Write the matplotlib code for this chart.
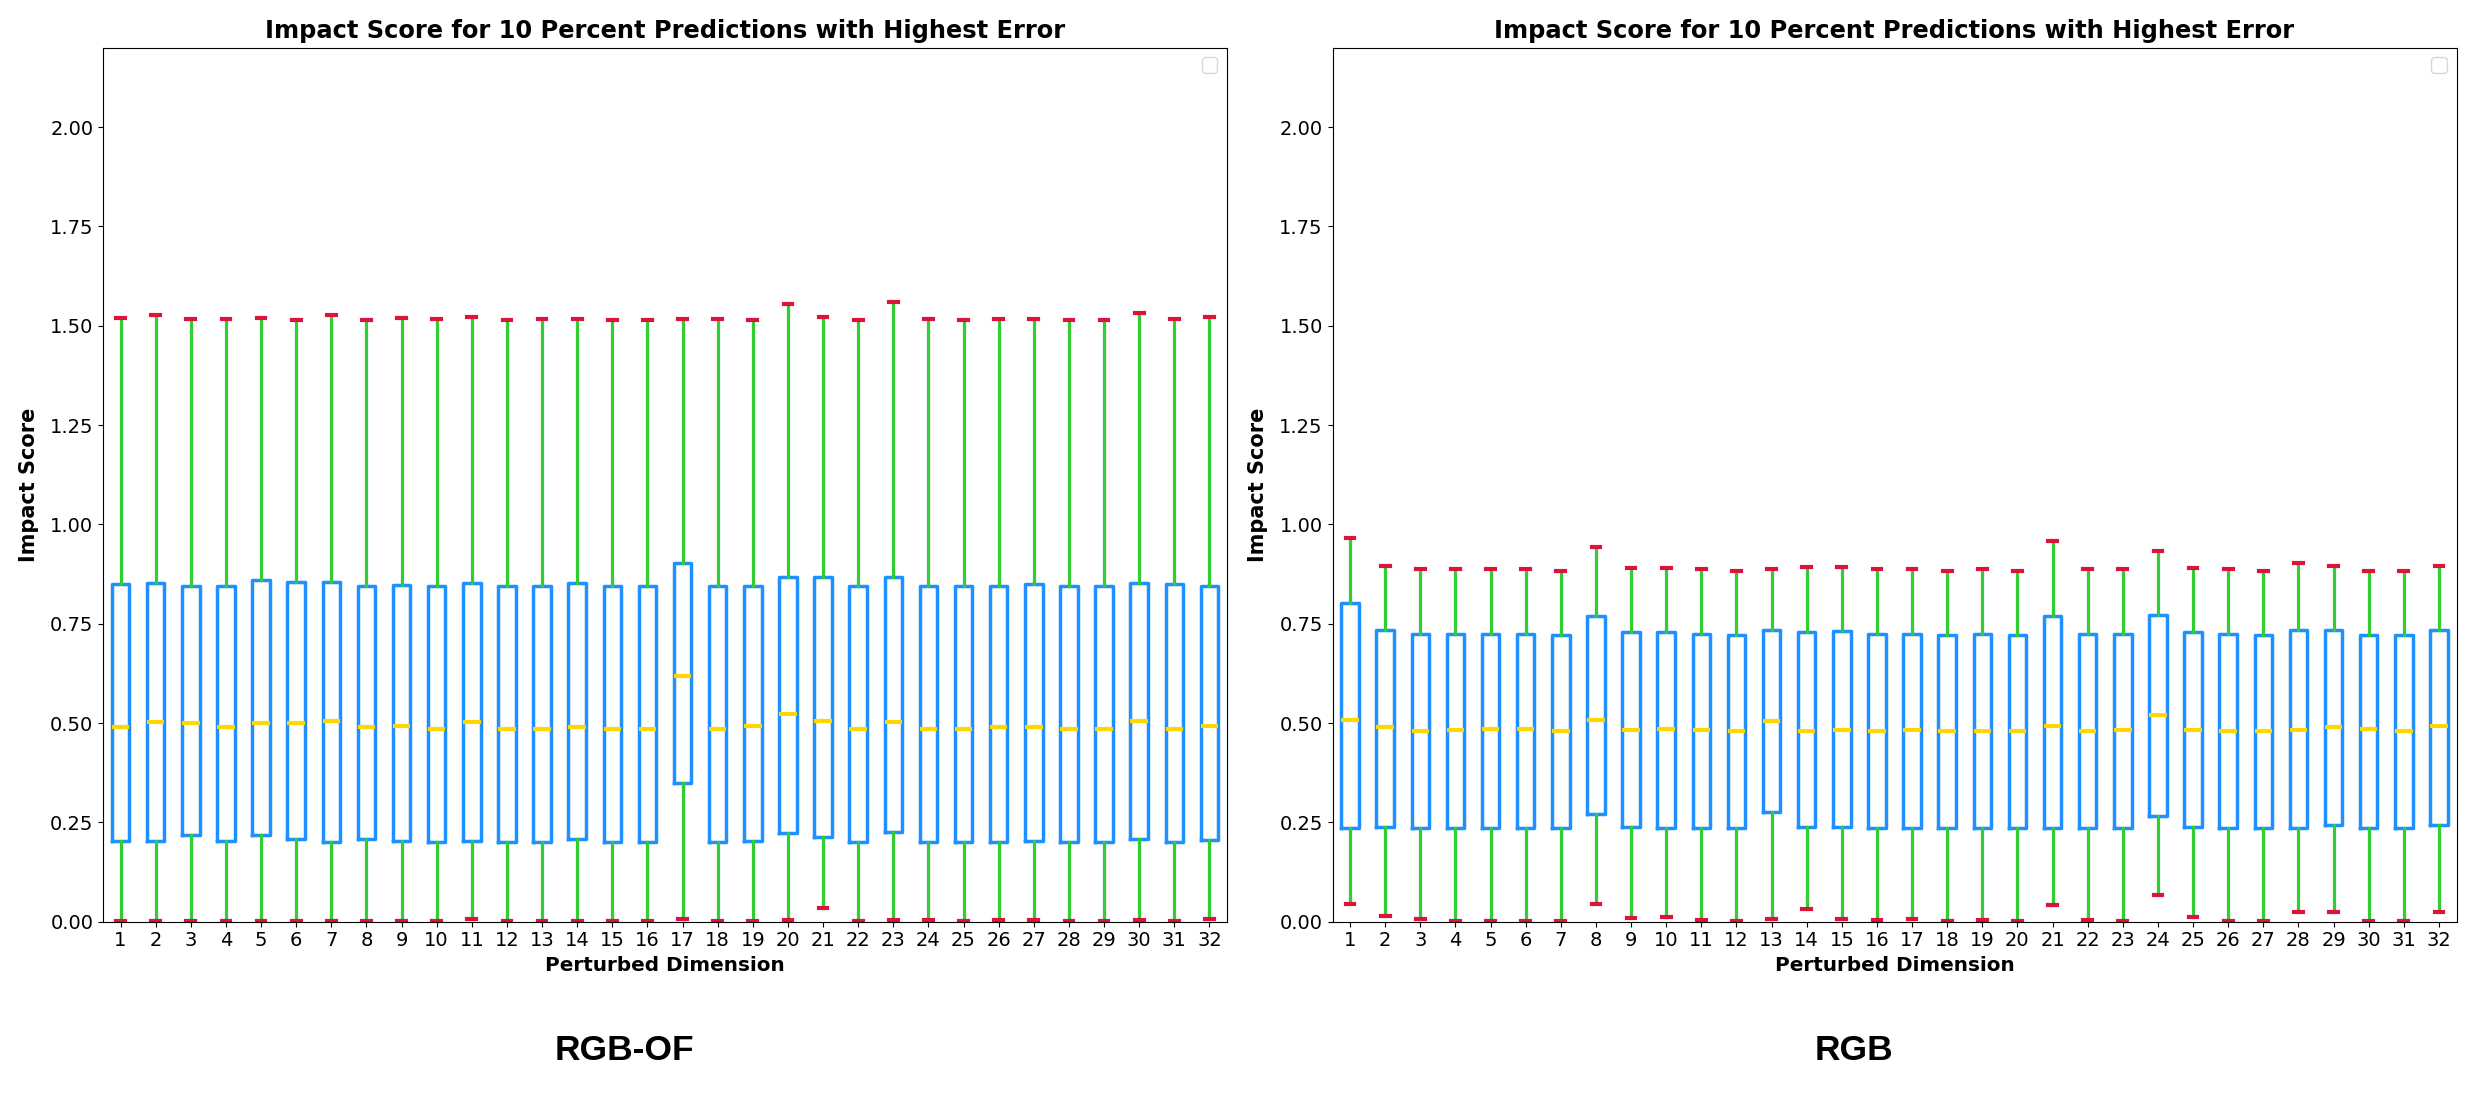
import matplotlib
matplotlib.use("Agg")
import matplotlib.pyplot as plt
import warnings

warnings.filterwarnings("ignore")

# Perturbed dimensions 1..32
dims = list(range(1, 33))

# RGB-OF panel: whisker ends, quartiles, medians
of_whishi = [1.520, 1.527, 1.517, 1.517, 1.520, 1.514, 1.527, 1.514, 1.520, 1.517, 1.523, 1.514, 1.517, 1.517, 1.514, 1.514,
             1.517, 1.517, 1.514, 1.555, 1.523, 1.514, 1.559, 1.517, 1.514, 1.517, 1.517, 1.514, 1.514, 1.533, 1.517, 1.523]
of_q3 = [0.849, 0.852, 0.846, 0.846, 0.859, 0.855, 0.856, 0.846, 0.848, 0.846, 0.852, 0.846, 0.846, 0.852, 0.846, 0.846,
         0.902, 0.846, 0.846, 0.868, 0.868, 0.846, 0.868, 0.846, 0.846, 0.846, 0.849, 0.846, 0.846, 0.852, 0.849, 0.846]
of_med = [0.489, 0.502, 0.499, 0.489, 0.499, 0.499, 0.505, 0.489, 0.493, 0.486, 0.502, 0.486, 0.486, 0.489, 0.486, 0.486,
          0.618, 0.486, 0.493, 0.524, 0.505, 0.486, 0.502, 0.486, 0.486, 0.489, 0.489, 0.486, 0.486, 0.505, 0.486, 0.493]
of_q1 = [0.203, 0.203, 0.217, 0.203, 0.217, 0.207, 0.201, 0.207, 0.203, 0.201, 0.203, 0.201, 0.201, 0.207, 0.201, 0.201,
         0.348, 0.201, 0.203, 0.223, 0.214, 0.201, 0.225, 0.201, 0.201, 0.201, 0.203, 0.201, 0.201, 0.207, 0.201, 0.205]
of_whislo = [0.003, 0.001, 0.001, 0.001, 0.001, 0.001, 0.001, 0.001, 0.003, 0.001, 0.006, 0.001, 0.003, 0.003, 0.001, 0.001,
             0.007, 0.001, 0.001, 0.004, 0.035, 0.001, 0.004, 0.004, 0.001, 0.004, 0.004, 0.001, 0.001, 0.004, 0.001, 0.006]

# RGB panel
rgb_whishi = [0.965, 0.896, 0.887, 0.887, 0.887, 0.887, 0.884, 0.943, 0.890, 0.890, 0.887, 0.884, 0.887, 0.893, 0.893, 0.887,
              0.887, 0.884, 0.887, 0.884, 0.959, 0.887, 0.887, 0.934, 0.890, 0.887, 0.884, 0.903, 0.896, 0.884, 0.884, 0.896]
rgb_q3 = [0.803, 0.734, 0.725, 0.725, 0.725, 0.725, 0.722, 0.769, 0.729, 0.729, 0.725, 0.722, 0.734, 0.729, 0.732, 0.725,
          0.725, 0.722, 0.725, 0.722, 0.769, 0.725, 0.725, 0.772, 0.729, 0.725, 0.722, 0.734, 0.734, 0.722, 0.722, 0.734]
rgb_med = [0.508, 0.489, 0.480, 0.483, 0.486, 0.486, 0.480, 0.508, 0.483, 0.486, 0.483, 0.480, 0.505, 0.480, 0.483, 0.480,
           0.483, 0.480, 0.480, 0.480, 0.493, 0.480, 0.483, 0.520, 0.483, 0.480, 0.480, 0.483, 0.489, 0.486, 0.480, 0.493]
rgb_q1 = [0.236, 0.239, 0.236, 0.236, 0.236, 0.236, 0.236, 0.270, 0.239, 0.236, 0.236, 0.236, 0.275, 0.239, 0.239, 0.236,
          0.236, 0.236, 0.236, 0.236, 0.236, 0.236, 0.236, 0.267, 0.239, 0.236, 0.236, 0.236, 0.243, 0.236, 0.236, 0.243]
rgb_whislo = [0.044, 0.015, 0.006, 0.003, 0.003, 0.003, 0.001, 0.044, 0.010, 0.013, 0.004, 0.002, 0.006, 0.032, 0.006, 0.004,
              0.006, 0.002, 0.004, 0.002, 0.041, 0.004, 0.001, 0.066, 0.013, 0.003, 0.001, 0.025, 0.025, 0.001, 0.001, 0.025]

panel_names = ["RGB-OF", "RGB"]
title = "Impact Score for 10 Percent Predictions with Highest Error"


def make_stats(lo, q1, med, q3, hi):
    stats = []
    for i in range(len(dims)):
        stats.append({"whislo": lo[i], "q1": q1[i], "med": med[i], "q3": q3[i],
                      "whishi": hi[i], "fliers": [], "label": str(dims[i])})
    return stats


panels = [
    make_stats(of_whislo, of_q1, of_med, of_q3, of_whishi),
    make_stats(rgb_whislo, rgb_q1, rgb_med, rgb_q3, rgb_whishi),
]

W, H = 2475, 1095
fig = plt.figure(figsize=(W / 100, H / 100), dpi=100)

# axes placement measured in pixels
ax_left = [103, 1332.5]
ax_w = 1124
ax_bottom = 921.7
ax_top = 47.7
caption_x = [624, 1854]

for k, stats in enumerate(panels):
    ax = fig.add_axes([ax_left[k] / W, 1 - ax_bottom / H, ax_w / W, (ax_bottom - ax_top) / H])
    ax.bxp(stats, positions=dims, widths=0.5, showfliers=False,
           boxprops=dict(color="dodgerblue", linewidth=2.5),
           whiskerprops=dict(color="limegreen", linewidth=2.3),
           capprops=dict(color="crimson", linewidth=3),
           medianprops=dict(color="gold", linewidth=3))
    ax.set_xlim(0.5, 32.5)
    ax.set_ylim(0, 2.2)
    ax.set_yticks([0, 0.25, 0.5, 0.75, 1.0, 1.25, 1.5, 1.75, 2.0])
    ax.tick_params(labelsize=14)
    ax.set_title(title, fontsize=17.4, fontweight="bold", pad=7)
    ax.set_xlabel("Perturbed Dimension", fontsize=14.4, fontweight="bold")
    ax.set_ylabel("Impact Score", fontsize=15, fontweight="bold", labelpad=8)
    ax.legend(fontsize=14)  # no labelled artists -> empty box, as in the original
    fig.text(caption_x[k] / W, 1 - 1050 / H, panel_names[k], ha="center", va="center",
             fontsize=25.5, fontweight="bold", family="Liberation Sans")

fig.savefig("out.png", dpi=100)
